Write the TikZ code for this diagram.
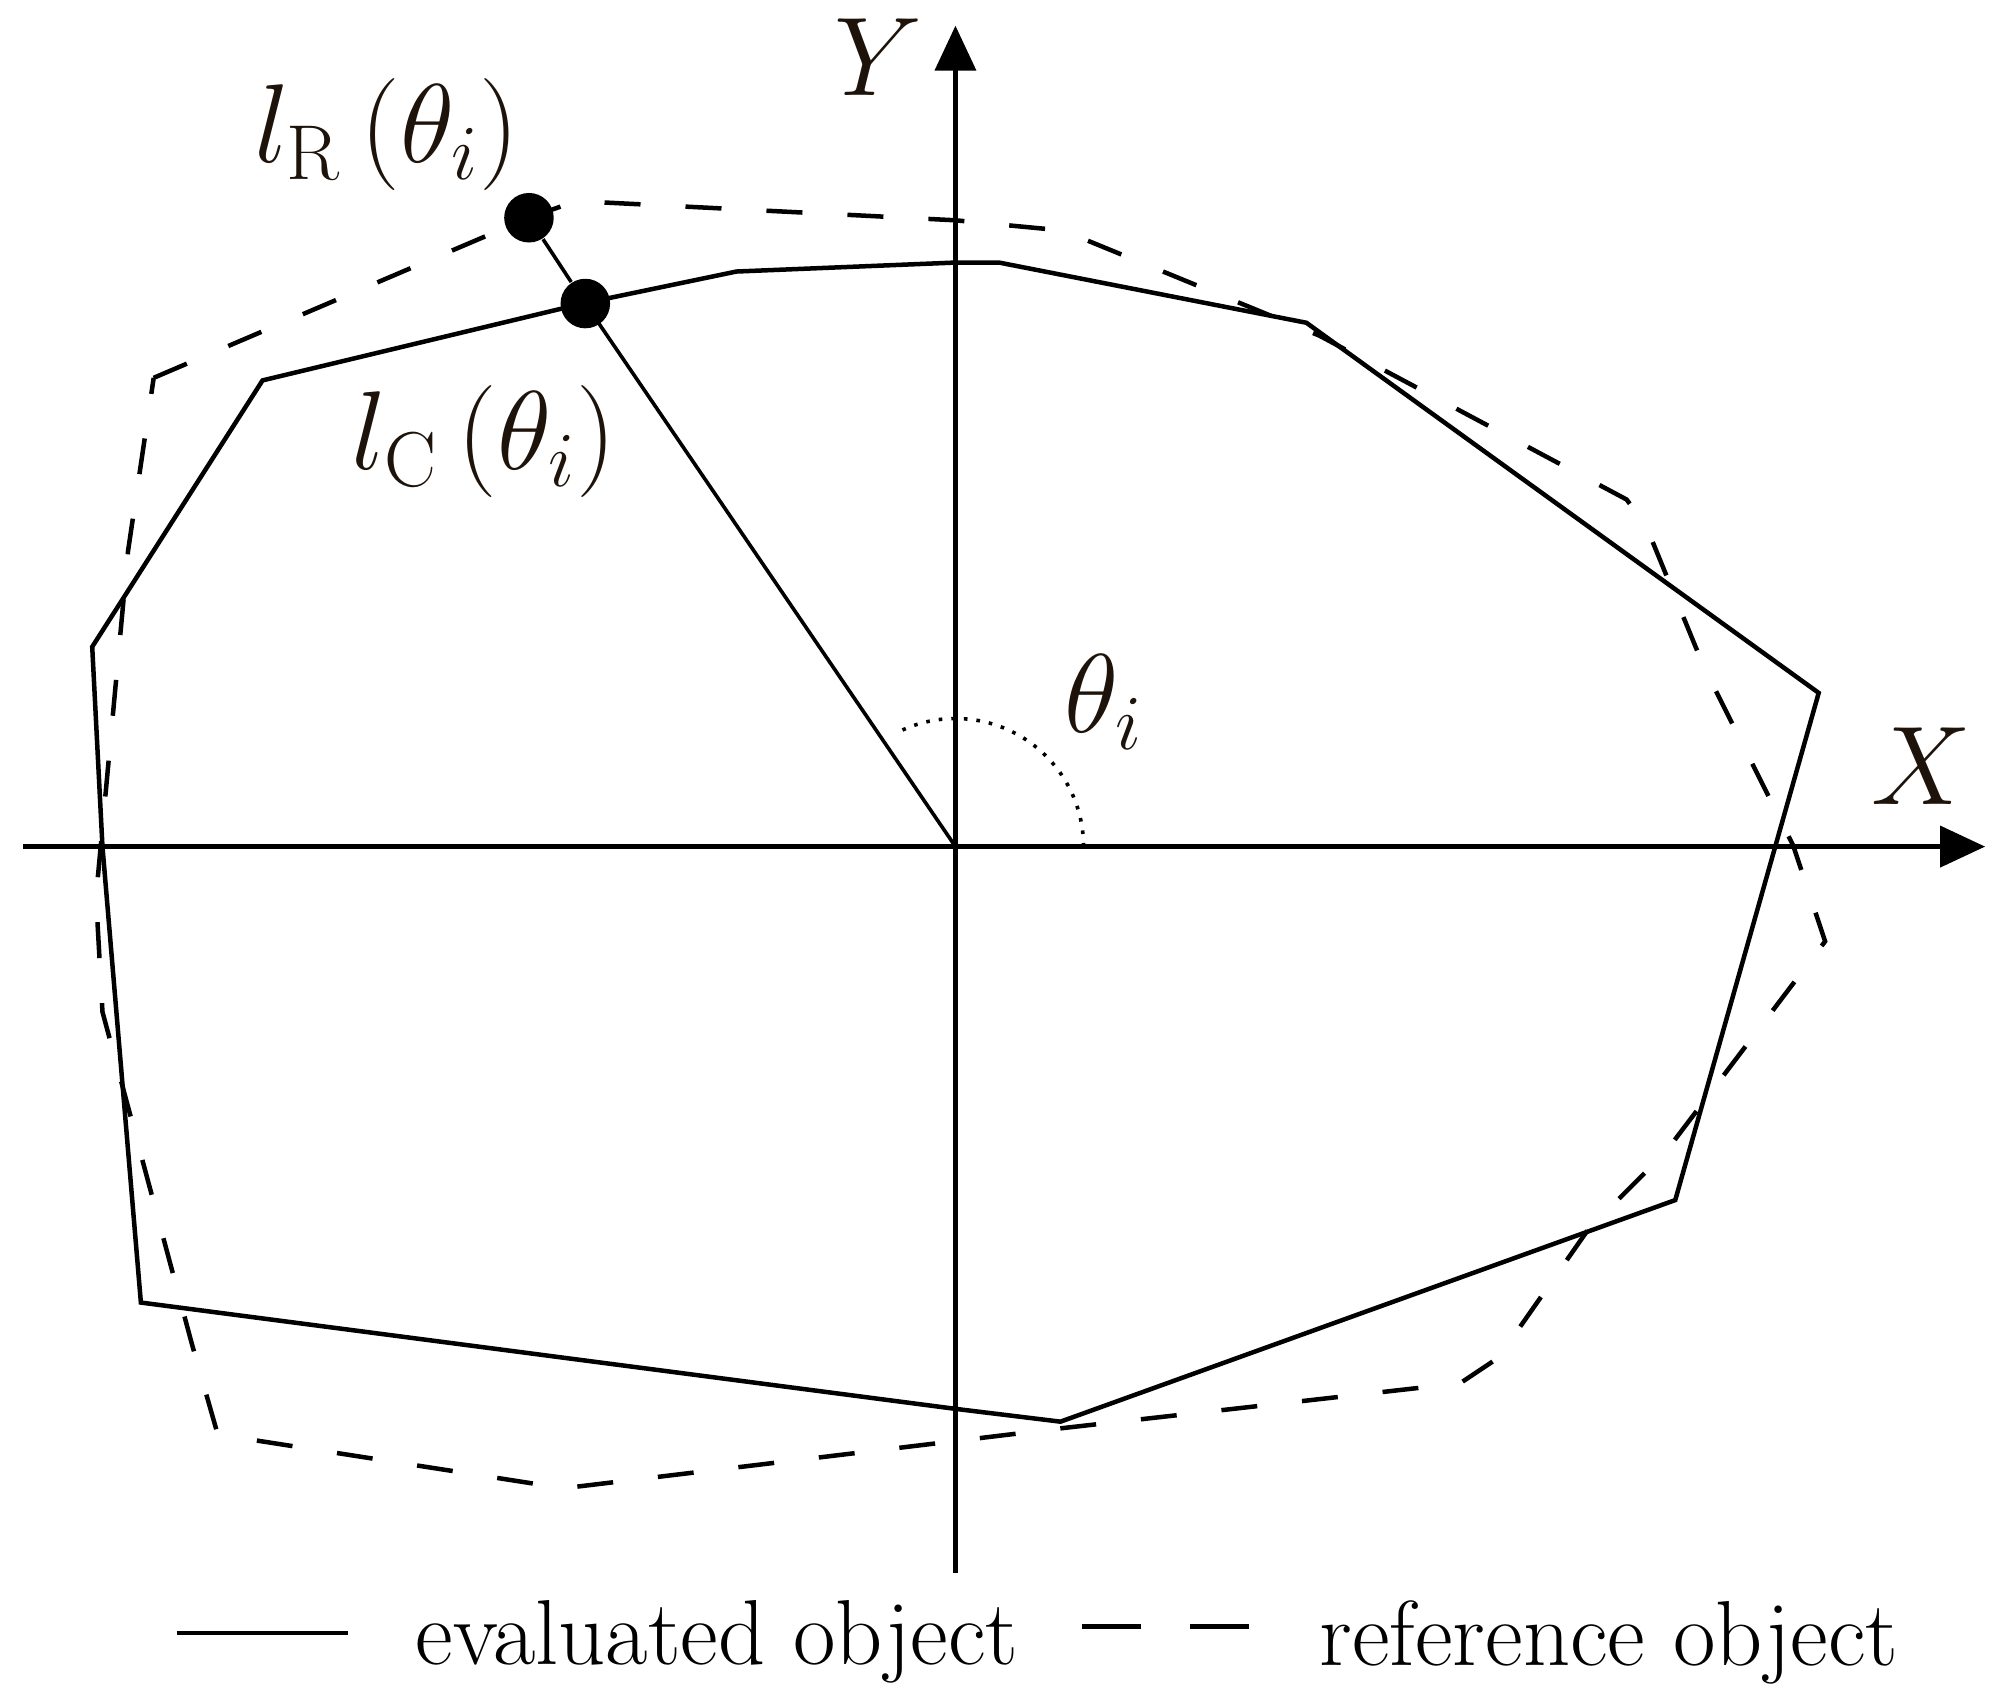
\documentclass[tikz,border=0pt]{standalone}
\usetikzlibrary{arrows.meta}
\begin{document}
\begin{tikzpicture}[x=0.01cm,y=-0.01cm,
  solidl/.style={line width=1pt},
  dashl/.style={line width=1pt,dash pattern=on 8pt off 10pt},
  axis/.style={line width=1.2pt,-{Triangle[length=10pt,width=9pt]}},
  lbl/.style={font=\fontsize{25}{29}\selectfont, text=black!85!brown},
  leg/.style={font=\fontsize{20.5}{24}\selectfont},
  dot/.style={circle,fill=black,inner sep=0pt,minimum size=11pt}]
\useasboundingbox (0,0) rectangle (1560,1330);
\coordinate (O) at (746,661);
\coordinate (xs) at (18,661); \coordinate (xe) at (1550,661);
\coordinate (ys) at (746,1228); \coordinate (ye) at (746,20);
\draw[axis] (xs) -- (xe);
\draw[axis] (ys) -- (ye);
% evaluated object
\draw[solidl] (205,297) -- (455,237) -- (575,212) -- (746,205) -- (780,205) -- (1020,252)
  -- (1420,541) -- (1308,937) -- (828,1110) -- (746,1100) -- (110,1017) -- (80,661) -- (72,505) -- cycle;
% reference object
\draw[dashl] (120,295) -- (413,170) -- (450,157) -- (746,172) -- (830,180) -- (1030,262)
  -- (1270,390) -- (1285,410) -- (1330,520) -- (1400,660) -- (1425,735) -- (1300,900)
  -- (1240,960) -- (1170,1060) -- (1140,1080) -- (830,1115) -- (440,1162) -- (170,1120)
  -- (150,1050) -- (80,790) -- (75,700) -- (100,430) -- cycle;
\node[dot] (R) at (413,170) {};
\node[dot] (C) at (457,237) {};
\draw[line width=0.8pt] (O) -- (C.center);
\draw[line width=0.8pt] (C) -- (R);
\draw[line width=0.8pt,dotted] (O) ++(100,0) arc[start angle=0,end angle=-118,x radius=100,y radius=100];
\node[lbl] (lY) at (686,45) {$Y$};
\node[lbl] (lX) at (1500,598) {$X$};
\node[lbl] (lth) at (862,548) {$\theta_i$};
\node[lbl] (lR) at (302,105) {$l_{\mathrm{R}}\left(\theta_i\right)$};
\node[lbl] (lC) at (378,345) {$l_{\mathrm{C}}\left(\theta_i\right)$};
\coordinate (a1) at (138,1275); \coordinate (a2) at (272,1275);
\draw[solidl] (a1) -- (a2);
\node[leg,anchor=west] (t1) at (312,1282) {evaluated object};
\coordinate (b1) at (845,1270); \coordinate (b2) at (975,1270);
\draw[solidl,dash pattern=on 13pt off 11pt] (b1) -- (b2);
\node[leg,anchor=west] (t2) at (1018,1282) {reference object};
\end{tikzpicture}
\end{document}
